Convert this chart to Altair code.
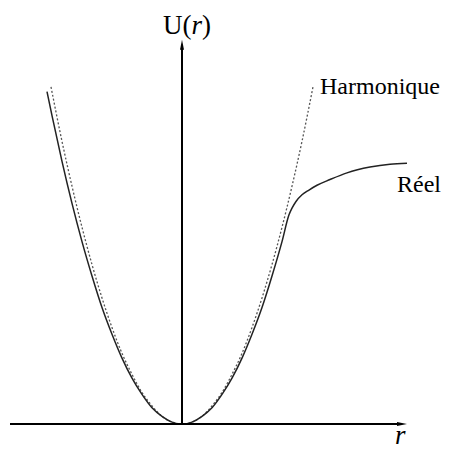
import altair as alt
import pandas as pd

# Harmonic (dotted) potential (r, U in arbitrary units)
harm_r = [-1.31, -1.2, -1.1, -1.0, -0.9, -0.8, -0.7, -0.6, -0.5, -0.4, -0.3, -0.2, -0.1, 0.0,
          0.1, 0.2, 0.3, 0.4, 0.5, 0.6, 0.7, 0.8, 0.9, 1.0, 1.1, 1.2, 1.31]
harm_U = [3.53, 2.96, 2.49, 2.06, 1.67, 1.32, 1.01, 0.74, 0.52, 0.33, 0.19, 0.08, 0.02, 0.0,
          0.02, 0.08, 0.19, 0.33, 0.52, 0.74, 1.01, 1.32, 1.67, 2.06, 2.49, 2.96, 3.53]

real_r = [-1.35, -1.3, -1.2, -1.1, -1.0, -0.9, -0.8, -0.7, -0.6, -0.5, -0.4, -0.3, -0.2, -0.1, 0.0,
          0.1, 0.2, 0.3, 0.4, 0.5, 0.6, 0.7, 0.8, 0.9, 1.0, 1.07, 1.10, 1.14, 1.20, 1.27, 1.35,
          1.48, 1.65, 1.88, 2.08, 2.25]
real_U = [3.48, 3.23, 2.75, 2.31, 1.91, 1.55, 1.22, 0.94, 0.69, 0.48, 0.31, 0.17, 0.08, 0.02, 0.0,
          0.02, 0.08, 0.17, 0.31, 0.48, 0.69, 0.94, 1.22, 1.55, 1.91, 2.19, 2.26, 2.33, 2.40, 2.45, 2.50,
          2.56, 2.63, 2.69, 2.72, 2.73]

# Axis extents
x_axis_r = [-1.72, 2.20]
y_axis_U = [0.0, 3.95]

# Labels: text, r, U, size, italic
label_text = ["U(", "r", ")", "Harmonique", "Réel", "r"]
label_r = [-0.19, 0.095, 0.20, 1.38, 2.15, 2.13]
label_U = [4.08, 4.08, 4.08, 3.46, 2.43, -0.21]
label_size = [27, 27, 27, 24, 24, 27]
label_italic = [False, True, False, False, False, True]

W, H = 435, 444
xs = alt.Scale(domain=[-1.74, 2.61], nice=False, zero=False)
ys = alt.Scale(domain=[-0.293, 4.356], nice=False, zero=False)

harm = pd.DataFrame({"r": harm_r, "U": harm_U})
real = pd.DataFrame({"r": real_r, "U": real_U})

X = alt.X("r:Q", scale=xs, axis=None)
Y = alt.Y("U:Q", scale=ys, axis=None)

harm_line = alt.Chart(harm).mark_line(
    color="#555555", strokeWidth=1.3, strokeDash=[2, 2], interpolate="monotone"
).encode(x=X, y=Y)

real_line = alt.Chart(real).mark_line(
    color="#222222", strokeWidth=1.5, interpolate="monotone"
).encode(x=X, y=Y)

xa = pd.DataFrame({"r": [x_axis_r[0]], "r2": [x_axis_r[1]], "U": [0.0]})
x_axis = alt.Chart(xa).mark_rule(color="black", strokeWidth=2).encode(x=X, x2="r2:Q", y=Y)

ya = pd.DataFrame({"r": [0.0], "U": [y_axis_U[0]], "U2": [y_axis_U[1]]})
y_axis = alt.Chart(ya).mark_rule(color="black", strokeWidth=2).encode(x=X, y=Y, y2="U2:Q")

arr_x = alt.Chart(pd.DataFrame({"r": [2.20], "U": [0.0]})).mark_point(
    shape="M-1,-0.4L1,0L-1,0.4Z", size=100, filled=True, color="black", opacity=1
).encode(x=X, y=Y)

arr_y = alt.Chart(pd.DataFrame({"r": [0.0], "U": [3.97]})).mark_point(
    shape="M-0.4,1L0,-1L0.4,1Z", size=100, filled=True, color="black", opacity=1
).encode(x=X, y=Y)

labels = pd.DataFrame({"t": label_text, "r": label_r, "U": label_U})

text_layers = []
for i in range(len(label_text)):
    d = labels.iloc[[i]]
    kw = dict(align="left", baseline="alphabetic", font="Liberation Serif",
              fontSize=int(label_size[i]), color="black")
    if label_italic[i]:
        kw["fontStyle"] = "italic"
    text_layers.append(alt.Chart(d).mark_text(**kw).encode(x=X, y=Y, text="t:N"))

chart = alt.layer(harm_line, real_line, x_axis, y_axis, arr_x, arr_y, *text_layers).properties(
    width=W, height=H, padding=0, autosize=alt.AutoSizeParams(type="none")
).configure(font="Liberation Serif").configure_view(stroke=None)

chart.save("out.html", embed_options={"renderer": "svg", "actions": False})
